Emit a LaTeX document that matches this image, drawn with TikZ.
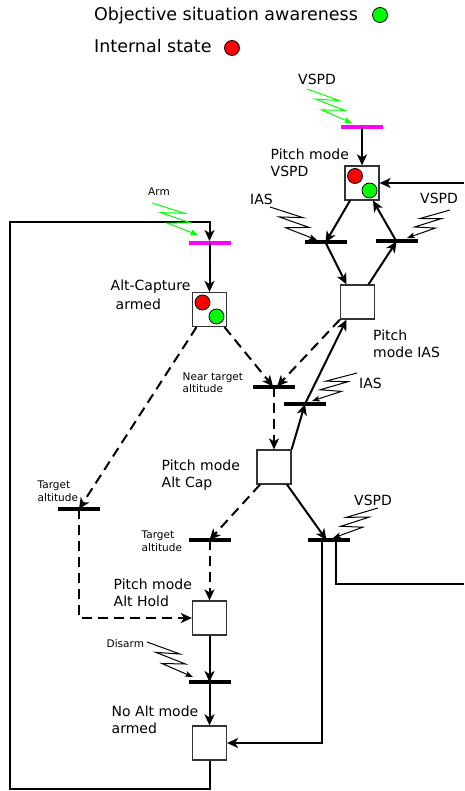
\documentclass[tikz,border=0pt]{standalone}
\usepackage{fontspec}
\setmainfont{DejaVu Sans}
\usepackage{tikz}
\usetikzlibrary{arrows.meta, calc, positioning}
\definecolor{evgreen}{RGB}{0, 255, 0}
\definecolor{stred}{RGB}{255, 0, 0}
\definecolor{armmag}{RGB}{255, 0, 255}
\tikzset{
  place/.style={rectangle, draw=black!80, line width=1.2pt, fill=white, minimum size=34pt, inner sep=0pt},
  trans/.style={rectangle, fill=black, minimum width=42pt, minimum height=4pt, inner sep=0pt},
  armtrans/.style={rectangle, fill=armmag, minimum width=42pt, minimum height=3.5pt, inner sep=0pt},
  flow/.style={line width=2pt, -{Stealth[length=11pt, width=10pt, inset=3pt]}},
  dflow/.style={flow, dash pattern=on 10pt off 6pt},
  plainflow/.style={line width=2pt},
  dot/.style={circle, draw=black, line width=0.8pt, minimum size=15pt, inner sep=0pt},
  bigtxt/.style={font=\fontsize{17.5}{21}\selectfont, anchor=base west, inner sep=0pt},
  lbl/.style={font=\fontsize{14}{17}\selectfont, align=left, anchor=base west, inner sep=0pt},
  slbl/.style={font=\fontsize{10.5}{12.7}\selectfont, align=left, anchor=base west, inner sep=0pt},
  zig/.style={line width=1pt, -{Stealth[length=8pt, width=6pt, inset=2pt]},
    to path={
      -- ($(\tikztostart)!0.58!(\tikztotarget) + (\tikztostart)!0.18!#1:(\tikztotarget) - (\tikztostart)$)
      -- ($(\tikztostart)!0.23!(\tikztotarget) - (\tikztostart)!0.05!#1:(\tikztotarget) + (\tikztostart)$)
      -- ($(\tikztostart)!0.76!(\tikztotarget) + (\tikztostart)!0.10!#1:(\tikztotarget) - (\tikztostart)$)
      -- ($(\tikztostart)!0.43!(\tikztotarget) - (\tikztostart)!0.14!#1:(\tikztotarget) + (\tikztostart)$)
      -- (\tikztotarget)}}
}

\begin{document}
\begin{tikzpicture}[x=1pt, y=-1pt]
    \useasboundingbox (0,0) rectangle (464,791);

    % Legend
    \node[bigtxt] (legOSA) at (94,20.5) {Objective situation awareness};
    \node[dot, fill=evgreen] (legG) at (380,15) {};
    \node[bigtxt] (legIS) at (94,53) {Internal state};
    \node[dot, fill=stred] (legR) at (232,48) {};

    % Places
    \node[place] (sVSPD) at (362,183) {};
    \node[place] (sIAS) at (357.5,302) {};
    \node[place] (sArm) at (209.5,309.5) {};
    \node[place] (sCap) at (274,467) {};
    \node[place] (sHold) at (209.5,618) {};
    \node[place] (sNone) at (209.5,743) {};

    % Transitions
    \node[armtrans] (mTop) at (362,127) {};
    \node[trans] (bL) at (325.5,242.5) {};
    \node[trans] (bR) at (396.5,241.5) {};
    \node[armtrans] (mArm) at (209.5,243) {};
    \node[trans] (bNear) at (274,386.5) {};
    \node[trans] (bIAS) at (305,404) {};
    \node[trans] (bTgtL) at (79,509) {};
    \node[trans] (bTgtM) at (209.5,540) {};
    \node[trans] (bVS) at (328.5,540) {};
    \node[trans] (bDis) at (209.5,682) {};

    % Tokens
    \node[dot, fill=stred] (tVR) at ($(sVSPD)+(-7,-7)$) {};
    \node[dot, fill=evgreen] (tVG) at ($(sVSPD)+(7.5,7.5)$) {};
    \node[dot, fill=stred] (tAR) at ($(sArm)+(-7,-7)$) {};
    \node[dot, fill=evgreen] (tAG) at ($(sArm)+(7,7)$) {};

    % Labels (base = last line)
    \node[lbl] (lVStop) at (298,85) {VSPD};
    \node[lbl] (lsVSPD) at (270.5,177) {Pitch mode\\VSPD};
    \node[lbl] (lIASup) at (250,205) {IAS};
    \node[lbl] (lVSup) at (420,204) {VSPD};
    \node[slbl] (lArm) at (148,195.5) {Arm};
    \node[lbl, font=\fontsize{14}{18.3}\selectfont] (lsArm) at (110.5,309) {Alt-Capture\\\hspace*{5pt}armed};
    \node[lbl] (lsIAS) at (373,357) {Pitch\\mode IAS};
    \node[slbl] (lNear) at (182.5,392.7) {Near target\\altitude};
    \node[lbl] (lIASlo) at (359,388) {IAS};
    \node[lbl] (lsCap) at (161.5,487.3) {Pitch mode\\Alt Cap};
    \node[slbl] (lTgtL) at (37.5,501.5) {Target\\altitude};
    \node[slbl] (lTgtM) at (141.5,551) {Target\\altitude};
    \node[lbl] (lVSlo) at (354,505) {VSPD};
    \node[lbl] (lsHold) at (113.5,606.7) {Pitch mode\\Alt Hold};
    \node[slbl] (lDis) at (106.5,647.5) {Disarm};
    \node[lbl] (lsNone) at (111.5,733.3) {No Alt mode\\armed};

    % Free ends
    \coordinate (inR) at (464,183);
    \coordinate (outR) at (464,584);
    \coordinate (lpA) at (10,789);
    \coordinate (lpB) at (10,222);

    % Pitch mode loop
    \draw[flow] (mTop.center) -- (sVSPD.north);
    \draw[flow] (inR) -- (sVSPD.east);
    \draw[flow] ([xshift=-12pt]sVSPD.south) -- (bL.center);
    \draw[flow] (bL.center) -- ([xshift=-11pt]sIAS.north);
    \draw[flow] ([xshift=11pt]sIAS.north) -- (bR.center);
    \draw[flow] (bR.center) -- ([xshift=11pt]sVSPD.south);

    % Altitude capture
    \draw[flow] (sNone.south) |- (lpA) -- (lpB) -| (mArm.north);
    \draw[flow] (mArm.center) -- (sArm.north);
    \draw[dflow] ([xshift=15pt]sArm.south) -- ([xshift=-1pt]bNear.center);
    \draw[dflow] (sIAS.south west) -- ([xshift=3pt]bNear.center);
    \draw[dflow] (bNear.center) -- (sCap.north);
    \draw[flow] (sCap.north east) -- (bIAS.center);
    \draw[flow] (bIAS.center) -- ([xshift=-11pt]sIAS.south);
    \draw[dflow] ([xshift=-13pt]sArm.south) -- (bTgtL.center);
    \draw[dflow] (bTgtL.center) |- (sHold.west);
    \draw[dflow] ([xshift=-14pt]sCap.south) -- (bTgtM.center);
    \draw[dflow] (bTgtM.center) -- (sHold.north);
    \draw[flow] ([xshift=13pt]sCap.south) -- ([xshift=-2pt]bVS.center);
    \draw[flow] ([xshift=-7pt]bVS.center) |- (sNone.east);
    \draw[plainflow] ([xshift=7.5pt]bVS.center) |- (outR);
    \draw[flow] (sHold.south) -- (bDis.center);
    \draw[flow] (bDis.center) -- (sNone.north);

    % Events
    \coordinate (zVStop) at (307,89);   \coordinate (eVStop) at (352,123);
    \coordinate (zArm) at (152,203);    \coordinate (eArm) at (198,235);
    \coordinate (zIASup) at (270,207);  \coordinate (eIASup) at (317,240);
    \coordinate (zVSup) at (450,210);   \coordinate (eVSup) at (407,238);
    \coordinate (zIASlo) at (357,373);  \coordinate (eIASlo) at (312,401);
    \coordinate (zVSlo) at (378,508);   \coordinate (eVSlo) at (333,538);
    \coordinate (zDis) at (147,642);    \coordinate (eDis) at (193,677);
    \draw[zig=90, evgreen] (zVStop) to (eVStop);
    \draw[zig=90, evgreen] (zArm) to (eArm);
    \draw[zig=90] (zIASup) to (eIASup);
    \draw[zig=-90] (zVSup) to (eVSup);
    \draw[zig=-90] (zIASlo) to (eIASlo);
    \draw[zig=-90] (zVSlo) to (eVSlo);
    \draw[zig=90] (zDis) to (eDis);
\end{tikzpicture}
\end{document}
